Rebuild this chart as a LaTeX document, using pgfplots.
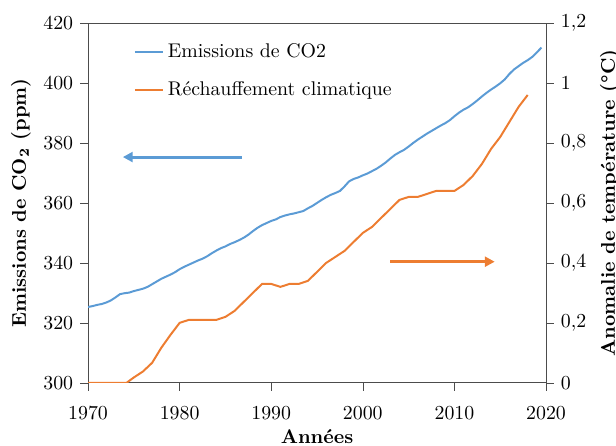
\documentclass[border=0pt]{standalone}
\usepackage{pgfplots}
\pgfplotsset{compat=1.18}
\usetikzlibrary{arrows.meta}
\definecolor{cblue}{HTML}{5B9BD5}
\definecolor{corange}{HTML}{ED7D31}
\begin{document}
\begin{tikzpicture}
\begin{axis}[
  name=a1,
  scale only axis, width=231pt, height=181.5pt,
  xmin=1970, xmax=2020, ymin=300, ymax=420,
  xtick={1970,1980,...,2020}, ytick={300,320,...,420},
  xtick pos=bottom, ytick pos=left, tick align=outside,
  major tick length=4pt,
  x tick label style={/pgf/number format/1000 sep={}, yshift=-4.5pt},
  axis line style={black!70}, major tick style={black!70},
  xlabel={\textbf{Années}}, xlabel shift=-2pt,
  ylabel={\textbf{Emissions de CO$_\mathbf{2}$ (ppm)}}, ylabel shift=-0.5pt,
  legend style={draw=none, fill=none, at={(0.086,0.966)}, anchor=north west, row sep=6.5pt, font=\normalsize},
  legend cell align=left,
  legend image code/.code={\draw[#1, line width=1pt] (0cm,0cm) -- (0.5cm,0cm);},
]
\addplot[cblue, line width=1pt] coordinates {
(1970.0,325.3) (1970.5,325.6) (1971.0,326.0) (1971.5,326.3) (1972.0,326.8) (1972.5,327.5)
(1973.0,328.5) (1973.5,329.6) (1974.0,329.9) (1974.5,330.1) (1975.0,330.6) (1975.5,331.0)
(1976.0,331.4) (1976.5,332.0) (1977.0,332.9) (1977.5,333.8) (1978.0,334.7) (1978.5,335.4)
(1979.0,336.1) (1979.5,336.9) (1980.0,337.9) (1980.5,338.7) (1981.0,339.4) (1981.5,340.1)
(1982.0,340.8) (1982.5,341.4) (1983.0,342.2) (1983.5,343.2) (1984.0,344.1) (1984.5,344.9)
(1985.0,345.5) (1985.5,346.3) (1986.0,346.9) (1986.5,347.6) (1987.0,348.4) (1987.5,349.4)
(1988.0,350.6) (1988.5,351.7) (1989.0,352.6) (1989.5,353.3) (1990.0,354.0) (1990.5,354.5)
(1991.0,355.3) (1991.5,355.8) (1992.0,356.2) (1992.5,356.5) (1993.0,356.9) (1993.5,357.3)
(1994.0,358.2) (1994.5,359.0) (1995.0,360.0) (1995.5,361.0) (1996.0,361.9) (1996.5,362.7)
(1997.0,363.3) (1997.5,364.0) (1998.0,365.5) (1998.5,367.2) (1999.0,368.0) (1999.5,368.5)
(2000.0,369.2) (2000.5,369.8) (2001.0,370.6) (2001.5,371.4) (2002.0,372.4) (2002.5,373.5)
(2003.0,374.8) (2003.5,376.0) (2004.0,376.9) (2004.5,377.7) (2005.0,378.8) (2005.5,380.0)
(2006.0,381.1) (2006.5,382.1) (2007.0,383.1) (2007.5,384.0) (2008.0,384.9) (2008.5,385.8)
(2009.0,386.6) (2009.5,387.6) (2010.0,388.9) (2010.5,390.1) (2011.0,391.1) (2011.5,391.9)
(2012.0,393.0) (2012.5,394.2) (2013.0,395.5) (2013.5,396.7) (2014.0,397.8) (2014.5,398.8)
(2015.0,399.9) (2015.5,401.2) (2016.0,403.0) (2016.5,404.5) (2017.0,405.6) (2017.5,406.7)
(2018.0,407.6) (2018.5,408.7) (2019.0,410.2) (2019.5,411.8)
};
\addlegendentry{Emissions de CO2}
\addlegendimage{corange}
\addlegendentry{Réchauffement climatique}
\draw[cblue, line width=1.5pt, -{Triangle[length=5pt,width=5pt]}] (axis cs:1986.8,375.3) -- (axis cs:1973.8,375.3);
\end{axis}
\begin{axis}[
  scale only axis, width=231pt, height=181.5pt,
  xmin=1970, xmax=2020, ymin=0, ymax=1.2,
  axis x line=none, axis y line*=right,
  ytick={0,0.2,...,1.2}, tick align=outside, major tick length=4pt,
  yticklabel style={/pgf/number format/.cd, use comma, fixed, precision=1},
  axis line style={black!70}, major tick style={black!70},
  ylabel={\textbf{Anomalie de température (°C)}},
]
\addplot[corange, line width=1pt] coordinates {
(1970,0) (1971,0) (1972,0) (1973,0) (1974.2,0) (1975,0.018) (1976,0.038) (1977,0.067)
(1978,0.117) (1979,0.16) (1980,0.2) (1981,0.21) (1982,0.21) (1983,0.21) (1984,0.21)
(1985,0.22) (1986,0.24) (1987,0.27) (1988,0.30) (1989,0.33) (1990,0.33) (1991,0.32)
(1992,0.33) (1993,0.33) (1994,0.34) (1995,0.37) (1996,0.40) (1997,0.42) (1998,0.44)
(1999,0.47) (2000,0.50) (2001,0.52) (2002,0.55) (2003,0.58) (2004,0.61) (2005,0.62)
(2006,0.62) (2007,0.63) (2008,0.64) (2009,0.64) (2010,0.64) (2011,0.66) (2012,0.69)
(2013,0.73) (2014,0.78) (2015,0.82) (2016,0.87) (2017,0.92) (2018,0.96)
};
\draw[corange, line width=1.5pt, -{Triangle[length=5pt,width=5pt]}] (axis cs:2003,0.404) -- (axis cs:2014.4,0.404);
\end{axis}
\pgfresetboundingbox
\path[use as bounding box] ([xshift=-44.4pt,yshift=-31.8pt]a1.south west) rectangle ([xshift=35.3pt,yshift=11.6pt]a1.north east);
\end{tikzpicture}
\end{document}
